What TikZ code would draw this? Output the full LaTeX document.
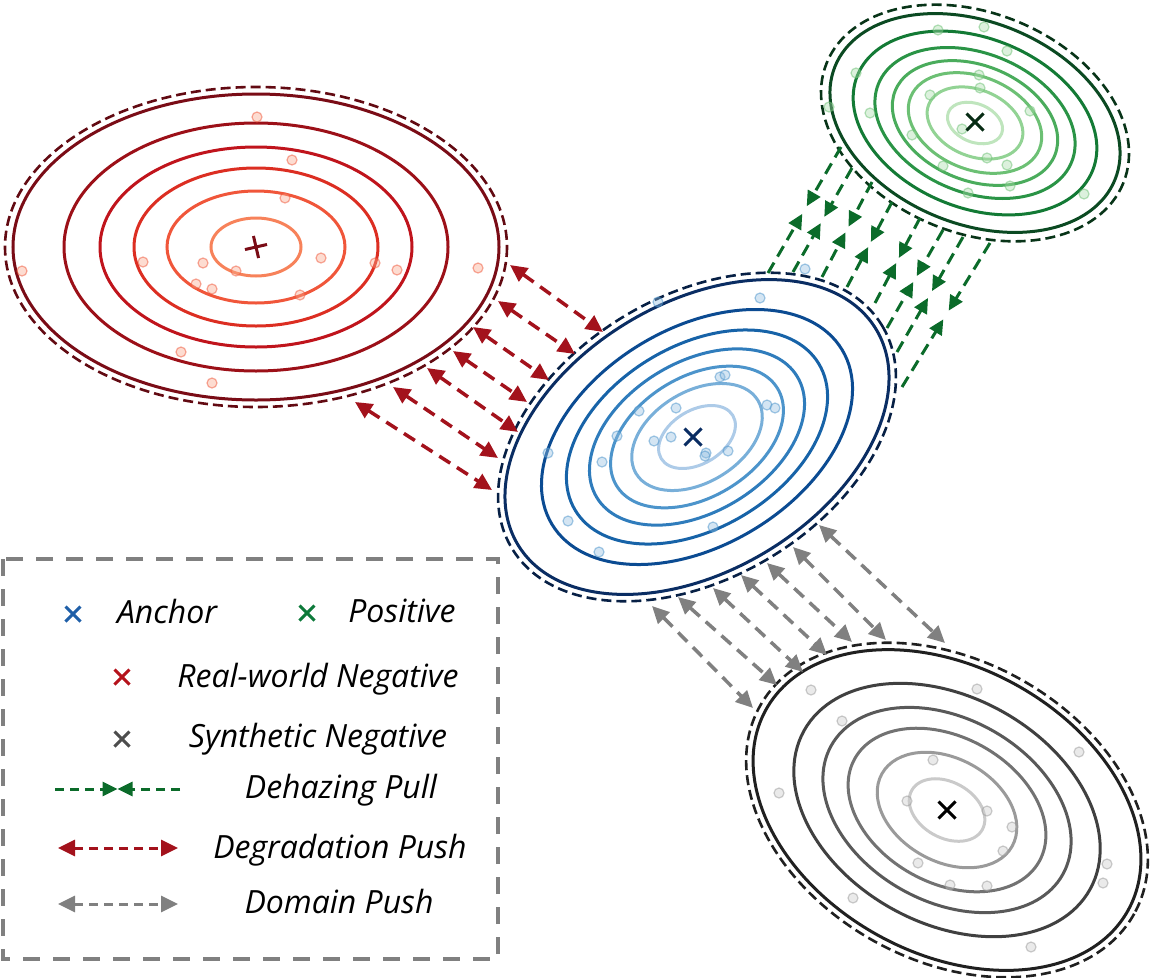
\documentclass[tikz,border=0pt]{standalone}
\usepackage{fontspec}
\setmainfont{Open Sans}
\usetikzlibrary{arrows.meta,calc,shapes.misc}

% colori dei contorni (dall'esterno all'interno)
\definecolor{rosso1}{HTML}{7A0C16}
\definecolor{rosso2}{HTML}{9C1018}
\definecolor{rosso3}{HTML}{C0141C}
\definecolor{rosso4}{HTML}{DC2E22}
\definecolor{rosso5}{HTML}{F0563A}
\definecolor{rosso6}{HTML}{F7825A}
\definecolor{blu1}{HTML}{0A2D63}
\definecolor{blu2}{HTML}{0B4B92}
\definecolor{blu3}{HTML}{1763A8}
\definecolor{blu4}{HTML}{2F7CBC}
\definecolor{blu5}{HTML}{4C94CB}
\definecolor{blu6}{HTML}{78AFD9}
\definecolor{blu7}{HTML}{ADCBE8}
\definecolor{verde1}{HTML}{0B4A22}
\definecolor{verde2}{HTML}{137A35}
\definecolor{verde3}{HTML}{2A9446}
\definecolor{verde4}{HTML}{4AAC5C}
\definecolor{verde5}{HTML}{6CC074}
\definecolor{verde6}{HTML}{92D394}
\definecolor{verde7}{HTML}{BFE5BD}
\definecolor{grigio1}{HTML}{202020}
\definecolor{grigio2}{HTML}{404040}
\definecolor{grigio3}{HTML}{595959}
\definecolor{grigio4}{HTML}{727272}
\definecolor{grigio5}{HTML}{9A9A9A}
\definecolor{grigio6}{HTML}{CACACA}
% frecce e legenda
\definecolor{frossa}{HTML}{A3121C}
\definecolor{fverde}{HTML}{0B6B2A}
\definecolor{fgrigia}{HTML}{808080}
\definecolor{xblu}{HTML}{1F5FA8}
\definecolor{xverde}{HTML}{0D7A3A}
\definecolor{xrossa}{HTML}{B5121B}

\begin{document}
\begin{tikzpicture}[x=1pt,y=-1pt,
  contour/.style={line width=3pt},
  ring/.style={line width=2.6pt,dash pattern=on 10pt off 5pt},
  dot/.style={line width=1.2pt,fill opacity=0.4,draw opacity=0.5},
  push/.style={line width=3.5pt,dash pattern=on 13pt off 8pt,
    {Triangle[length=17pt,width=16pt]}-{Triangle[length=17pt,width=16pt]}},
  pull/.style={line width=3pt,dash pattern=on 12pt off 7pt,
    -{Triangle[length=15pt,width=14pt]}},
  legarrow/.style={line width=3pt,dash pattern=on 9pt off 6pt},
  xm/.style={cross out,draw,minimum size=14pt,inner sep=0pt,line width=3pt},
  legtext/.style={font=\fontsize{32}{38}\selectfont\itshape,anchor=base,inner sep=0pt}]

\useasboundingbox (0,0) rectangle (1150,977);

% --- Negativo reale (rosso) ---
\coordinate (rc) at (256,247);
\draw[ring,rosso1!80!black] (rc) ellipse [x radius=251, y radius=160];
\foreach \rx/\ry/\c in {243/153/rosso1,192/124/rosso2,156/100/rosso3,122/79/rosso4,89/56/rosso5,45/29/rosso6}
  \draw[contour,\c] (rc) ellipse [x radius=\rx, y radius=\ry];
\foreach \p in {(257,117),(292,160),(285,198),(143,262),(203,263),(236,271),(196,284),(212,289),
                (300,295),(321,258),(375,263),(397,270),(478,268),(22,271),(181,352),(212,383)}
  \draw[dot,draw=rosso5,fill=rosso6!70] \p circle (5);
\node (rx) [xm,draw=rosso1,rotate=-32,minimum size=13pt] at (rc) {};

% --- Ancora (blu) ---
\coordinate (bc) at (697,437);
\draw[ring,blu1!70!black,rotate around={31:(bc)}] (bc) ellipse [x radius=216, y radius=141];
\foreach \s/\c in {1/blu1,0.81/blu2,0.68/blu3,0.56/blu4,0.45/blu5,0.34/blu6,0.2/blu7}
  \draw[contour,\c,rotate around={31:(bc)}] (bc) ellipse [x radius=209*\s, y radius=134*\s];
\foreach \p in {(760,298),(658,302),(805,269),(720,377),(725,375),(639,411),(676,408),(767,405),(775,408),(617,436),
                (671,437),(654,441),(706,453),(705,456),(728,451),(548,453),(602,462),(568,521),(713,527),(599,552)}
  \draw[dot,draw=blu5,fill=blu6!80] \p circle (5);
\node (bx) [xm,draw=blu1] at (693,437) {};

% --- Positivo (verde) ---
\coordinate (gc) at (975,123);
\draw[ring,verde1!70!black,rotate around={-22:(gc)}] (gc) ellipse [x radius=160, y radius=110];
\foreach \s/\c in {1/verde1,0.84/verde2,0.69/verde3,0.57/verde4,0.46/verde5,0.33/verde6,0.19/verde7}
  \draw[contour,\c,rotate around={-22:(gc)}] (gc) ellipse [x radius=151*\s, y radius=101*\s];
\foreach \p in {(938,30),(984,27),(1007,51),(856,73),(979,75),(980,88),(930,95),(829,107),(870,113),
                (1030,111),(912,135),(962,129),(987,158),(943,166),(1007,165),(1010,186),(968,193),(1084,194)}
  \draw[dot,draw=verde5,fill=verde6!80] \p circle (5);
\node (gx) [xm,draw=verde1!60!black] at (975,122) {};

% --- Negativo sintetico (grigio) ---
\coordinate (sc) at (947,810);
\draw[ring,grigio1,rotate around={-29:(sc)}] (sc) ellipse [x radius=214, y radius=150];
\foreach \s/\c in {1/grigio1,0.79/grigio2,0.64/grigio3,0.51/grigio4,0.36/grigio5,0.195/grigio6}
  \draw[contour,\c,rotate around={-29:(sc)}] (sc) ellipse [x radius=207*\s, y radius=143*\s];
\foreach \p in {(811,690),(977,689),(842,721),(1079,752),(933,760),(779,793),(907,801),(987,811),(1012,827),
                (1003,851),(918,863),(1107,864),(1103,883),(950,885),(987,886),(853,898),(1031,947)}
  \draw[dot,draw=grigio5,fill=grigio6] \p circle (5);
\node (sx) [xm,draw=black] at (sc) {};

% --- Frecce: Degradation Push (rosso -> blu) ---
\foreach \ax/\ay/\bx/\by in {510/265/603/332,498/301/575/354,473/327/549/380,453/351/527/402,
                             427/368/518/432,393/387/498/458,355/402/492/490}
  \draw[push,frossa] (\ax,\ay) -- (\bx,\by);

% --- Frecce: Domain Push (blu -> grigio) ---
\foreach \ax/\ay/\bx/\by in {819/525/945/643,793/547/886/640,767/563/852/642,741/575/827/655,
                             713/588/803/672,678/597/777/685,652/606/753/708}
  \draw[push,fgrigia] (\ax,\ay) -- (\bx,\by);

% --- Frecce: Dehazing Pull (verde <-> blu) ---
\foreach \tx/\ty/\bx/\by in {841/147/768/273,852/168/793/272,872/182/822/277,892/202/847/287,
                             920/218/875/303,943/230/887/328,963/237/897/352,990/243/902/387}{
  \coordinate (gt) at (\tx,\ty);
  \coordinate (gb) at (\bx,\by);
  \draw[pull,fverde] (gt) -- ($(gt)!0.47!(gb)$);
  \draw[pull,fverde] (gb) -- ($(gb)!0.47!(gt)$);
}

% --- Legenda ---
\draw[fgrigia,line width=3.5pt,dash pattern=on 17pt off 13pt] (3,559) rectangle (498,959);
\node (lanc) [xm,draw=xblu,minimum size=12pt] at (73,614) {};
\node[legtext] at (167,623) {Anchor};
\node (lpos) [xm,draw=xverde,minimum size=12pt] at (307,613) {};
\node[legtext] at (402,622) {Positive};
\node (lreal) [xm,draw=xrossa,minimum size=12pt] at (122,677) {};
\node[legtext] at (318,687) {Real-world Negative};
\node (lsyn) [xm,draw=grigio1!80,minimum size=12pt] at (122,739) {};
\node[legtext] at (318,747) {Synthetic Negative};

\coordinate (lp1) at (55,789);
\coordinate (lp2) at (180,789);
\draw[pull,legarrow,fverde] (lp1) -- ($(lp1)!0.5!(lp2)$);
\draw[pull,legarrow,fverde] (lp2) -- ($(lp2)!0.5!(lp1)$);
\node[legtext] at (341,798) {Dehazing Pull};

\coordinate (ld1) at (58,848);
\coordinate (ld2) at (178,848);
\draw[push,legarrow,frossa] (ld1) -- (ld2);
\node[legtext] at (340,858) {Degradation Push};

\coordinate (lm1) at (58,904);
\coordinate (lm2) at (178,904);
\draw[push,legarrow,fgrigia] (lm1) -- (lm2);
\node[legtext] at (339,913) {Domain Push};

\end{tikzpicture}
\end{document}
